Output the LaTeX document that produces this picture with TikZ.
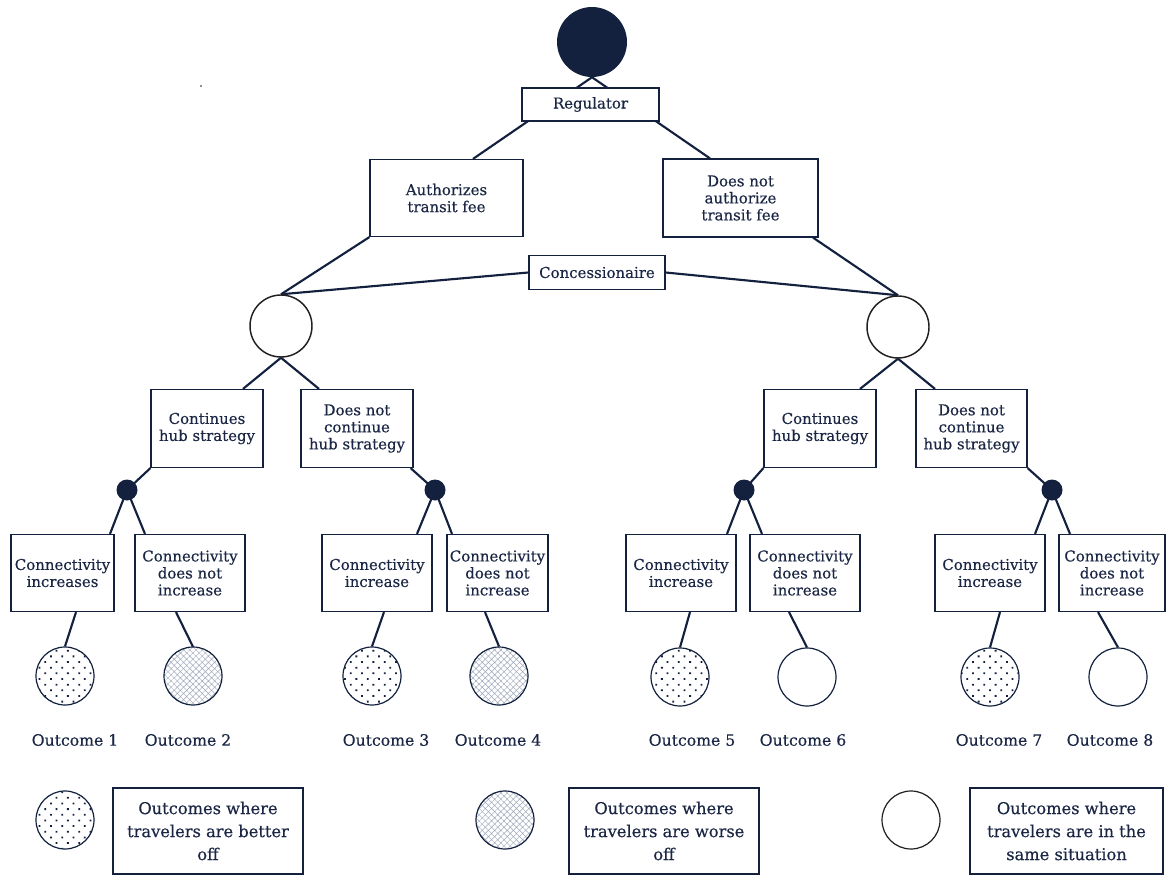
\documentclass[tikz,border=0pt]{standalone}
\usepackage{fontspec}
\setmainfont{DejaVu Serif}[FakeBold=0.35]
\usetikzlibrary{calc,backgrounds,patterns.meta}
\definecolor{navy}{HTML}{13213F}
\definecolor{txt}{HTML}{1A2644}
\definecolor{hatchc}{HTML}{9EA7BA}
\definecolor{ring}{HTML}{231F20}
\begin{document}
\begin{tikzpicture}[x=0.75pt,y=-0.75pt,
  bx/.style n args={2}{draw=navy, line width=0.9pt, fill=white, inner sep=0pt,
    minimum width=#1*0.75pt, minimum height=#2*0.75pt, align=center, text=txt,
    font=\fontsize{11.2}{12.75}\selectfont},
  lbx/.style n args={2}{draw=navy, line width=0.9pt, fill=white, inner sep=0pt,
    minimum width=#1*0.75pt, minimum height=#2*0.75pt, align=center, text=txt,
    font=\fontsize{12.2}{17.25}\selectfont},
  ball/.style={circle, draw=ring, line width=1.1pt, fill=white, inner sep=0pt, minimum size=#1*0.75pt},
  outc/.style={circle, draw=navy, line width=0.9pt, inner sep=0pt, minimum size=58*0.75pt, preaction={fill=white}},
  dotfill/.style={pattern={Dots[distance=6pt, angle=45, radius=0.95pt]}, pattern color=navy},
  hatchfill/.style={pattern={Hatch[distance=3.3pt, angle=45, line width=0.35pt]}, pattern color=hatchc},
  chance/.style={circle, fill=navy, inner sep=0pt, minimum size=21*0.75pt},
  olab/.style={text=txt, font=\fontsize{11.75}{14}\selectfont, inner sep=0pt},
  conn/.style={draw=navy, line width=1.6pt}]
\useasboundingbox (0,0) rectangle (1166,877);

% root
\node[circle, fill=navy, inner sep=0pt, minimum size=70*0.75pt] (root) at (592,42) {};
\node[bx={137}{33}] (reg) at (590.5,104.5) {Regulator};
\node[bx={153}{77}] (auth) at (446.5,198) {Authorizes\\transit fee};
\node[bx={155}{78}] (dna) at (740.5,198) {Does not\\authorize\\transit fee};
\node[bx={136}{34}] (conc) at (597,272.5) {Concessionaire};
\node[ball=62] (midL) at (281,326) {};
\node[ball=62] (midR) at (898,327) {};

\node[bx={112}{78}] (contL) at (207,428.5) {Continues\\hub strategy};
\node[bx={112}{78}] (dncL) at (357,428.5) {Does not\\continue\\hub strategy};
\node[bx={112}{78}] (contR) at (820,428.5) {Continues\\hub strategy};
\node[bx={111}{78}] (dncR) at (971.5,428.5) {Does not\\continue\\hub strategy};

\node[chance] (d1) at (127,490) {};
\node[chance] (d2) at (435,490) {};
\node[chance] (d3) at (744,490) {};
\node[chance] (d4) at (1052,490) {};

\node[bx={103}{77}] (c1) at (62.5,573) {Connectivity\\increases};
\node[bx={110}{77}] (c2) at (190,573) {Connectivity\\does not\\increase};
\node[bx={110}{77}] (c3) at (377,573) {Connectivity\\increase};
\node[bx={101}{77}] (c4) at (497.5,573) {Connectivity\\does not\\increase};
\node[bx={110}{77}] (c5) at (681,573) {Connectivity\\increase};
\node[bx={110}{77}] (c6) at (805,573) {Connectivity\\does not\\increase};
\node[bx={110}{77}] (c7) at (990,573) {Connectivity\\increase};
\node[bx={106}{77}] (c8) at (1112,573) {Connectivity\\does not\\increase};

\node[outc, dotfill] (o1) at (65,676) {};
\node[outc, hatchfill] (o2) at (193,676) {};
\node[outc, dotfill] (o3) at (372,676) {};
\node[outc, hatchfill] (o4) at (499,676) {};
\node[outc, dotfill] (o5) at (680,677) {};
\node[outc] (o6) at (807,677) {};
\node[outc, dotfill] (o7) at (990,677) {};
\node[outc] (o8) at (1118,677) {};

\node[olab] (l1) at (75,740) {Outcome 1};
\node[olab] (l2) at (188,740) {Outcome 2};
\node[olab] (l3) at (386,740) {Outcome 3};
\node[olab] (l4) at (498,740) {Outcome 4};
\node[olab] (l5) at (692,740) {Outcome 5};
\node[olab] (l6) at (803,740) {Outcome 6};
\node[olab] (l7) at (999,740) {Outcome 7};
\node[olab] (l8) at (1110,740) {Outcome 8};

% legend
\node[outc, dotfill] (k1) at (65,820) {};
\node[lbx={190}{86}] (t1) at (208,831) {Outcomes where\\travelers are better\\off};
\node[outc, hatchfill] (k2) at (505,820) {};
\node[lbx={190}{86}] (t2) at (664,831) {Outcomes where\\travelers are worse\\off};
\node[outc, draw=ring] (k3) at (911,820) {};
\node[lbx={193}{86}] (t3) at (1066.5,831) {Outcomes where\\travelers are in the\\same situation};

\node[text=navy, inner sep=0pt, font=\fontsize{8}{8}\selectfont] (dot) at (201,86) {.};

\begin{scope}[on background layer]
  \draw[conn] (root.south) -- ($(auth.north)+(26.5,0)$);
  \draw[conn] (root.south) -- ($(dna.north)+(-30.5,0)$);
  \draw[conn] (auth.south west) -- (midL.north);
  \draw[conn] (conc.west) -- (midL.north);
  \draw[conn] ($(dna.south)+(72.5,0)$) -- (midR.north);
  \draw[conn] (conc.east) -- (midR.north);
  \draw[conn] (midL.south) -- ($(contL.north)+(36,0)$);
  \draw[conn] (midL.south) -- ($(dncL.north)+(-38,0)$);
  \draw[conn] (midR.south) -- ($(contR.north)+(40,0)$);
  \draw[conn] (midR.south) -- ($(dncR.north)+(-36.5,0)$);
  \draw[conn] (contL.south west) -- (d1.center);
  \draw[conn] ($(dncL.south east)+(-3,0)$) -- (d2.center);
  \draw[conn] (contR.south west) -- (d3.center);
  \draw[conn] (dncR.south east) -- (d4.center);
  \draw[conn] (d1.center) -- ($(c1.north)+(47.5,0)$);
  \draw[conn] (d1.center) -- ($(c2.north)+(-45,0)$);
  \draw[conn] (d2.center) -- ($(c3.north)+(40,0)$);
  \draw[conn] (d2.center) -- ($(c4.north)+(-45.5,0)$);
  \draw[conn] (d3.center) -- ($(c5.north)+(46,0)$);
  \draw[conn] (d3.center) -- ($(c6.north)+(-43,0)$);
  \draw[conn] (d4.center) -- ($(c7.north)+(45,0)$);
  \draw[conn] (d4.center) -- ($(c8.north)+(-42,0)$);
  \draw[conn] ($(c1.south)+(13.5,0)$) -- (o1.north);
  \draw[conn] ($(c2.south)+(-14,0)$) -- (o2.north);
  \draw[conn] ($(c3.south)+(7,0)$) -- (o3.north);
  \draw[conn] ($(c4.south)+(-12.5,0)$) -- (o4.north);
  \draw[conn] ($(c5.south)+(9,0)$) -- (o5.north);
  \draw[conn] ($(c6.south)+(-16,0)$) -- (o6.north);
  \draw[conn] ($(c7.south)+(10,0)$) -- (o7.north);
  \draw[conn] ($(c8.south)+(-14,0)$) -- (o8.north);
\end{scope}
\end{tikzpicture}
\end{document}
